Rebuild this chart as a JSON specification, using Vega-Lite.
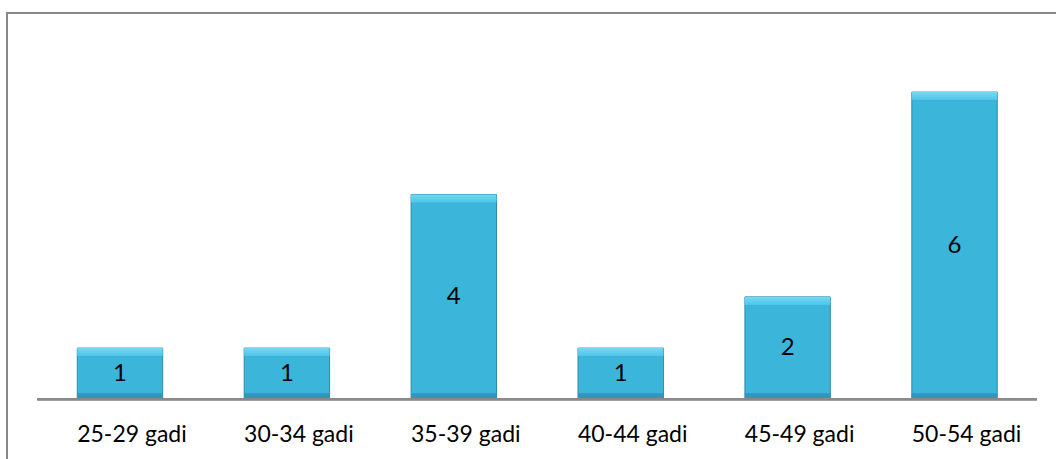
{
  "$schema": "https://vega.github.io/schema/vega-lite/v6.json",
  "width": 1049,
  "height": 446,
  "autosize": {"type": "none"},
  "padding": {"left": 7, "top": 13, "right": 0, "bottom": 0},
  "background": "white",
  "config": {
    "view": {"stroke": "#898989", "strokeWidth": 2, "strokeDash": [1049, 1495, 500]},
    "font": "Lato"
  },
  "data": {
    "values": [
      {"g": "25-29 gadi", "v": 1},
      {"g": "30-34 gadi", "v": 1},
      {"g": "35-39 gadi", "v": 4},
      {"g": "40-44 gadi", "v": 1},
      {"g": "45-49 gadi", "v": 2},
      {"g": "50-54 gadi", "v": 6}
    ]
  },
  "layer": [
    {
      "mark": {"type": "bar", "fill": "#3bb6da", "stroke": "#2a8ba7", "strokeWidth": 1},
      "encoding": {
        "x": {
          "field": "g", "type": "nominal", "sort": null,
          "scale": {"type": "band", "paddingInner": 0.4883, "paddingOuter": 0.3866, "align": 0.5446, "round": false},
          "axis": {
            "orient": "bottom", "offset": -59.7, "domain": false, "ticks": false, "grid": false,
            "title": null, "labelAngle": 0, "labelFont": "Lato", "labelFontSize": 23,
            "labelColor": "#000000", "labelPadding": 42.4, "labelBaseline": "alphabetic",
            "labelOffset": 12
          }
        },
        "y": {
          "field": "v", "type": "quantitative",
          "scale": {"domain": [-1.166, 7.545], "nice": false, "zero": false},
          "axis": null
        }
      }
    },
    {
      "mark": {
        "type": "bar", "y2Offset": 8,
        "fill": {"gradient": "linear", "x1": 0, "y1": 0, "x2": 0, "y2": 1,
                 "stops": [{"offset": 0, "color": "#74d8f4"}, {"offset": 1, "color": "#4ec5e9"}]}
      },
      "encoding": {
        "x": {"field": "g", "type": "nominal", "sort": null},
        "y": {"field": "v", "type": "quantitative"},
        "y2": {"field": "v"}
      }
    },
    {
      "mark": {"type": "bar", "yOffset": -6, "fill": "#2e98b6"},
      "encoding": {
        "x": {"field": "g", "type": "nominal", "sort": null},
        "y": {"datum": 0},
        "y2": {"datum": 0}
      }
    },
    {
      "mark": {"type": "rule", "color": "#8a8a8a", "strokeWidth": 1.7},
      "encoding": {
        "x": {"datum": "25-29 gadi", "bandPosition": -0.468},
        "x2": {"datum": "50-54 gadi", "bandPosition": 1.464},
        "y": {"datum": 0}
      }
    },
    {
      "mark": {"type": "text", "font": "Lato", "fontSize": 24, "color": "#000000", "baseline": "middle", "align": "center"},
      "encoding": {
        "x": {"field": "g", "type": "nominal", "sort": null},
        "y": {"field": "v", "type": "quantitative", "stack": "zero", "bandPosition": 0.5},
        "text": {"field": "v", "type": "quantitative"}
      }
    }
  ]
}
